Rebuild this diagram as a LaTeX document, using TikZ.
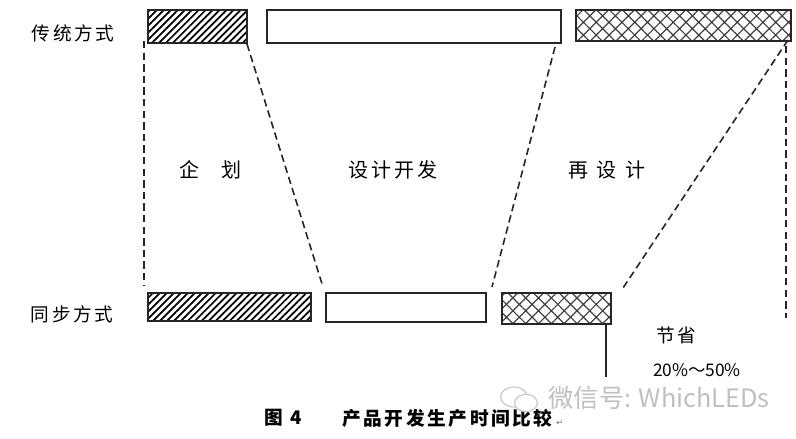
\documentclass[tikz,border=0pt]{standalone}
\usepackage{fontspec}
\newfontfamily\cjk{Noto Sans CJK SC}
\newfontfamily\cjkwide[LetterSpace=14]{Noto Sans CJK SC}
\newfontfamily\symb{DejaVu Sans}
\usetikzlibrary{positioning}
\usetikzlibrary{shapes.geometric}
\usetikzlibrary{patterns.meta}
\begin{document}
\begin{tikzpicture}[x=0.75pt,y=-0.75pt,semithick,font=\cjk]
	\tikzstyle{phase}=[draw=black!85,line width=1.5pt,inner sep=0pt,outer sep=0pt,anchor=north west]
	\tikzstyle{plan}=[phase,pattern={Lines[angle=45,distance=3.7pt,line width=1.3pt]}]
	\tikzstyle{redo}=[phase,pattern={Hatch[angle=45,distance=6.8pt,line width=0.9pt]},pattern color=black!75]
	\tikzstyle{cut}=[dashed,dash pattern=on 5.5pt off 3.2pt,line width=1.2pt,black!85]
	\tikzstyle{word}=[inner sep=0pt,font=\cjkwide\fontsize{14}{14}\selectfont,text=black]
	\tikzstyle{stage}=[word,font=\cjkwide\fontsize{15}{15}\selectfont]
	\tikzstyle{caption}=[inner sep=0pt,font=\cjkwide\fontsize{14}{14}\selectfont\bfseries]
	\useasboundingbox (0,0) rectangle (796,439);
	
	% top row
	\node[plan,minimum width=74.5pt,minimum height=25pt] (Plan) at (148,10) {};
	\node[phase,minimum width=221pt,minimum height=25pt] (Design) [right=14.5pt of Plan.north east,anchor=north west] {};
	\node[redo,minimum width=161pt,minimum height=23.5pt] (Redo) [right=11pt of Design.north east,anchor=north west] {};
	
	% bottom row
	\node[plan,minimum width=122.5pt,minimum height=21pt] (PlanB) at (148,293) {};
	\node[phase,minimum width=120pt,minimum height=22pt] (DesignB) [right=11pt of PlanB.north east,anchor=north west] {};
	\node[redo,minimum width=82pt,minimum height=23pt] (RedoB) [right=12pt of DesignB.north east,anchor=north west] {};
	
	% free ends of the dashed lines
	\coordinate (a1) at (144,41);
	\coordinate (a2) at (144,286);
	\coordinate (b1) at (247,44);
	\coordinate (b2) at (323,287);
	\coordinate (c1) at (555,47);
	\coordinate (c2) at (492,287);
	\coordinate (d1) at (788,40);
	\coordinate (d2) at (621,291);
	\coordinate (e1) at (786,46);
	\coordinate (e2) at (786,318);
	\coordinate (f2) at (606,377);
	
	\path[cut] (a1) edge (a2)
	(b1) edge (b2)
	(c1) edge (c2)
	(d1) edge (d2)
	(e1) edge (e2);
	\draw[black!85,line width=1.3pt] (f2 |- RedoB.south) -- (f2);
	
	\node[word] (Trad) at (73,33) {传统方式};
	\node[word] (Sync) at (72,314) {同步方式};
	\node[stage] (PlanT) at (210,170) {企\hspace{1.1em}划};
	\node[stage] (DesignT) at (393,170) {设计开发};
	\node[stage] (RedoT) at (607,170) {再\hspace{.45em}设\hspace{.45em}计};
	\node[word] (Save) at (676,335) {节省};
	\node[word,font=\cjk\fontsize{13}{13}\selectfont] (Rate) at (697,370) {20\%～50\%};
	
	\node[caption] (Fig) at (283,418) {图 4};
	\node[caption,anchor=west] (Title) at (342,418) {产品开发生产时间比较};
	\node[inner sep=0pt,anchor=west,font=\symb\fontsize{6}{6}\selectfont,text=black!60] (Mark) at (556,423) {↵};
	
	% watermark
	\node[draw=black!22,ellipse,line width=0.9pt,minimum width=20pt,minimum height=15pt,inner sep=0pt] (Chat) at (514,397) {};
	\node[draw=black!22,ellipse,fill=white,line width=0.9pt,minimum width=17pt,minimum height=13pt,inner sep=0pt] (ChatB) at (526,403) {};
	\node[inner sep=0pt,anchor=west,text=black!25,font=\cjk\fontsize{19}{19}\selectfont] (Wechat) at (548,398) {微信号: WhichLEDs};
\end{tikzpicture}
\end{document}
